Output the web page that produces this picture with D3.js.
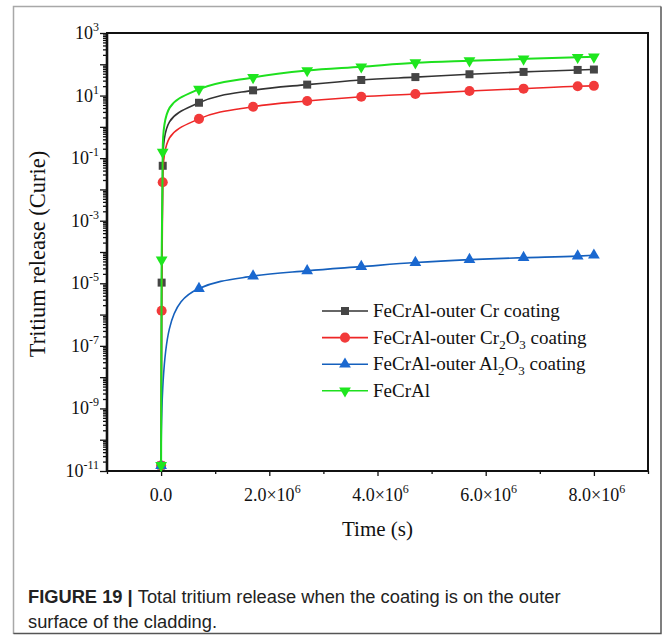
<!DOCTYPE html>
<html>
<head>
<meta charset="utf-8">
<script src="https://cdnjs.cloudflare.com/ajax/libs/d3/7.8.5/d3.min.js"></script>
<style>
  body { margin: 0; background: #fff; }
  svg { display: block; }
  .serif { font-family: "Liberation Serif", "Times New Roman", serif; fill: #111; }
</style>
</head>
<body>
<div id="chart"></div>
<script>
// time points (s); the first three all sit at ~0 on this scale
const times = [0, 1e4, 3e4, 7e5, 1.7e6, 2.7e6, 3.7e6, 4.7e6, 5.7e6, 6.7e6, 7.7e6, 8.0e6];
const crCoating = [1.5e-11, 1.05e-5, 0.057, 5.9, 14.7, 22.4, 31.5, 39, 48, 57, 66, 68];
const cr2o3Coating = [1.5e-11, 1.33e-6, 0.017, 1.8, 4.4, 6.7, 9.2, 11.2, 14, 16.6, 19.9, 20.5];
const al2o3Coating = [1.5e-11, null, null, 6.8e-6, 1.7e-5, 2.5e-5, 3.4e-5, 4.6e-5, 5.7e-5, 6.6e-5, 7.4e-5, 7.9e-5];
const bareFeCrAl = [1.5e-11, 5.6e-5, 0.155, 16, 38, 63, 83, 112, 130, 148, 167, 173];

const xMajorTicks = [0, 2e6, 4e6, 6e6, 8e6];
const xTickLabels = ['0.0', '2.0×10|6', '4.0×10|6', '6.0×10|6', '8.0×10|6'];
const yLabelExps = [3, 1, -1, -3, -5, -7, -9, -11];

const series = [
  {name: ['FeCrAl-outer Cr coating'], values: crCoating, line: '#333333', fill: '#454545', shape: 'square'},
  {name: ['FeCrAl-outer Cr', '2', 'O', '3', ' coating'], values: cr2o3Coating, line: '#ee2626', fill: '#f23a3a', shape: 'circle'},
  {name: ['FeCrAl-outer Al', '2', 'O', '3', ' coating'], values: al2o3Coating, line: '#1560bd', fill: '#1a68d0', shape: 'up'},
  {name: ['FeCrAl'], values: bareFeCrAl, line: '#1ee01e', fill: '#1ee61e', shape: 'down'}
];

const W = 663, H = 635;
const plot = {left: 107, right: 648, top: 33, bottom: 471};

// monotone curve, but leaving the points at t~0 with a vertical tangent
function KneeCurve(context) { this._context = context; }
KneeCurve.prototype = {
  areaStart() {}, areaEnd() {},
  lineStart() { this._pts = []; },
  point(px, py) { this._pts.push([+px, +py]); },
  lineEnd() {
    const p = this._pts, n = p.length, c = this._context;
    if (!n) return;
    c.moveTo(p[0][0], p[0][1]);
    if (n === 1) return;
    const s = [];
    for (let i = 0; i < n - 1; i++) s.push((p[i + 1][1] - p[i][1]) / Math.max(p[i + 1][0] - p[i][0], 1e-6));
    const m = new Array(n).fill(0);
    for (let i = 1; i < n - 1; i++) {
      const h0 = p[i][0] - p[i - 1][0], h1 = p[i + 1][0] - p[i][0];
      const q = (s[i - 1] * h1 + s[i] * h0) / (h0 + h1);
      m[i] = (Math.sign(s[i - 1]) + Math.sign(s[i])) * Math.min(Math.abs(s[i - 1]), Math.abs(s[i]), 0.5 * Math.abs(q)) || 0;
    }
    m[n - 1] = (3 * s[n - 2] - m[n - 2]) / 2;
    for (let i = 0; i < n - 1; i++) {
      const [x0, y0] = p[i], [x1, y1] = p[i + 1], h = x1 - x0;
      if (h < 3) { c.lineTo(x1, y1); continue; }
      if (x0 - p[0][0] < 3) {
        c.bezierCurveTo(x0, y0 + 0.8 * (y1 - y0), x1 - 0.75 * h, y1 - m[i + 1] * 0.75 * h, x1, y1);
      } else {
        c.bezierCurveTo(x0 + h / 3, y0 + m[i] * h / 3, x1 - h / 3, y1 - m[i + 1] * h / 3, x1, y1);
      }
    }
  }
};
const curveKnee = ctx => new KneeCurve(ctx);

const svg = d3.select('#chart').append('svg')
  .attr('width', W).attr('height', H);

svg.append('rect').attr('width', W).attr('height', H).attr('fill', '#fff');

// outer figure frame
svg.append('path').attr('d', `M13.5,634 V6.5 H661`).attr('fill', 'none').attr('stroke', '#a8a8a8').attr('stroke-width', 1.5);
svg.append('path').attr('d', `M661,6.5 V633.5 H13.5`).attr('fill', 'none').attr('stroke', '#555').attr('stroke-width', 1.5);

const x = d3.scaleLinear().domain([-1e6, 9e6]).range([plot.left, plot.right]);
const y = d3.scaleLog().domain([1e-11, 1e3]).range([plot.bottom, plot.top]);

// minor / major ticks
const yMajor = d3.range(-11, 4).map(e => Math.pow(10, e));
const yMinor = [];
d3.range(-11, 3).forEach(e => { for (let k = 2; k <= 9; k++) yMinor.push(k * Math.pow(10, e)); });

const yMinorAxis = svg.append('g').attr('transform', `translate(${plot.left},0)`)
  .call(d3.axisLeft(y).tickValues(yMinor).tickSize(4).tickFormat(() => ''));
const yMajorAxis = svg.append('g').attr('transform', `translate(${plot.left},0)`)
  .call(d3.axisLeft(y).tickValues(yMajor).tickSize(7).tickFormat(() => ''));
[yMinorAxis, yMajorAxis].forEach(g => {
  g.select('.domain').remove();
  g.selectAll('line').attr('stroke', '#111').attr('stroke-width', 1.3);
});

const xMinorAxis = svg.append('g').attr('transform', `translate(0,${plot.bottom})`)
  .call(d3.axisBottom(x).tickValues([-1e6, 1e6, 3e6, 5e6, 7e6, 9e6]).tickSize(3).tickFormat(() => ''));
const xMajorAxis = svg.append('g').attr('transform', `translate(0,${plot.bottom})`)
  .call(d3.axisBottom(x).tickValues(xMajorTicks).tickSize(5).tickFormat(() => ''));
[xMinorAxis, xMajorAxis].forEach(g => {
  g.select('.domain').remove();
  g.selectAll('line').attr('stroke', '#111').attr('stroke-width', 1.3);
});

// y tick labels 10^n
svg.append('g').selectAll('text').data(yLabelExps).join('text')
  .attr('class', 'serif')
  .attr('x', plot.left - 8)
  .attr('y', d => y(Math.pow(10, d)) + 6)
  .attr('text-anchor', 'end')
  .style('font-size', '18px')
  .each(function (d) {
    const t = d3.select(this);
    t.append('tspan').text('10');
    t.append('tspan').attr('dy', -8).style('font-size', '12px').text(d < 0 ? '-' + Math.abs(d) : d);
  });

// x tick labels
svg.append('g').selectAll('text').data(xMajorTicks).join('text')
  .attr('class', 'serif')
  .attr('x', (d, i) => x(d) + (i === 0 ? 0 : 3))
  .attr('y', plot.bottom + 30)
  .attr('text-anchor', 'middle')
  .style('font-size', '18px')
  .each(function (d, i) {
    const parts = xTickLabels[i].split('|');
    const t = d3.select(this);
    t.append('tspan').text(parts[0]);
    if (parts[1]) t.append('tspan').attr('dy', -8).style('font-size', '12px').text(parts[1]);
  });

// plot box
svg.append('rect')
  .attr('x', plot.left).attr('y', plot.top)
  .attr('width', plot.right - plot.left).attr('height', plot.bottom - plot.top)
  .attr('fill', 'none').attr('stroke', '#111').attr('stroke-width', 2);
svg.append('line').attr('x1', plot.left).attr('x2', plot.left)
  .attr('y1', plot.top).attr('y2', plot.bottom).attr('stroke', '#111').attr('stroke-width', 2.6);

// axis titles
svg.append('text').attr('class', 'serif')
  .attr('x', (plot.left + plot.right) / 2).attr('y', 536)
  .attr('text-anchor', 'middle').style('font-size', '21px')
  .text('Time (s)');
svg.append('text').attr('class', 'serif')
  .attr('transform', `translate(45,${(plot.top + plot.bottom) / 2 + 2}) rotate(-90)`)
  .attr('text-anchor', 'middle').style('font-size', '22.5px')
  .text('Tritium release (Curie)');

// clip
svg.append('clipPath').attr('id', 'plotClip').append('rect')
  .attr('x', plot.left).attr('y', plot.top)
  .attr('width', plot.right - plot.left).attr('height', plot.bottom - plot.top);

function symbolFor(shape) {
  if (shape === 'square') return d3.symbol(d3.symbolSquare, 64);
  if (shape === 'circle') return d3.symbol(d3.symbolCircle, 80);
  return d3.symbol(d3.symbolTriangle, 60);
}

const line = d3.line()
  .defined(d => d.v != null)
  .x(d => x(d.t)).y(d => y(d.v))
  .curve(curveKnee);

series.forEach(s => {
  const pts = times.map((t, i) => ({t: t, v: s.values[i]})).filter(d => d.v != null);
  svg.append('path').datum(pts)
    .attr('clip-path', 'url(#plotClip)')
    .attr('d', line)
    .attr('fill', 'none')
    .attr('stroke', s.line)
    .attr('stroke-width', s.shape === 'down' ? 2 : 1.6);
  svg.append('g').selectAll('path').data(pts).join('path')
    .attr('d', symbolFor(s.shape)())
    .attr('transform', d => `translate(${x(d.t)},${y(d.v)})` + (s.shape === 'down' ? ' rotate(180)' : ''))
    .attr('fill', s.fill);
});

// legend
const legend = svg.append('g');
series.forEach((s, i) => {
  const cy = 311 + i * 26.6;
  const g = legend.append('g');
  g.append('line').attr('x1', 322).attr('x2', 368).attr('y1', cy).attr('y2', cy)
    .attr('stroke', s.line).attr('stroke-width', 1.6);
  g.append('path').attr('d', symbolFor(s.shape)())
    .attr('transform', `translate(345,${cy})` + (s.shape === 'down' ? ' rotate(180)' : ''))
    .attr('fill', s.fill);
  const t = g.append('text').attr('class', 'serif')
    .attr('x', 373).attr('y', cy + 6).style('font-size', '19px');
  s.name.forEach((part, j) => {
    const sub = j % 2 === 1;
    t.append('tspan').text(part)
      .attr('dy', sub ? 5 : (j > 0 ? -5 : 0))
      .style('font-size', sub ? '13px' : null);
  });
});

// caption
const cap = svg.append('text')
  .attr('x', 28).attr('y', 603)
  .style('font-family', '"Liberation Sans", Arial, sans-serif')
  .style('font-size', '18.3px').attr('fill', '#222');
cap.append('tspan').style('font-weight', 'bold').text('FIGURE 19 | ');
cap.append('tspan').text('Total tritium release when the coating is on the outer');
svg.append('text')
  .attr('x', 28).attr('y', 628)
  .style('font-family', '"Liberation Sans", Arial, sans-serif')
  .style('font-size', '18.3px').attr('fill', '#222')
  .text('surface of the cladding.');
</script>
</body>
</html>
